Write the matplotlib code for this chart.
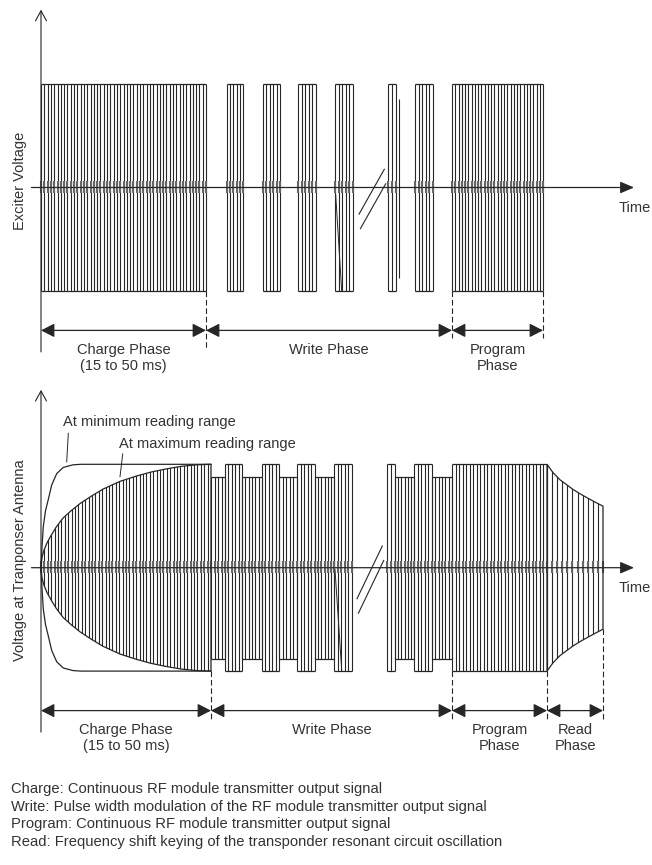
import numpy as np
import matplotlib
matplotlib.use("Agg")
import matplotlib.pyplot as plt
from matplotlib.patches import Polygon, FancyArrowPatch

plt.rcParams['font.family'] = ['Liberation Sans', 'DejaVu Sans']

INK = '#262626'
TEXT = '#333333'
FS = 10.5

# ---------------- Exciter voltage (upper diagram) ----------------
exc_phase_bounds = [0, 165, 411, 502]
exc_phase_labels = ["Charge Phase\n(15 to 50 ms)", "Write Phase", "Program\nPhase"]
exc_burst_start = [0, 186, 222, 257, 294, 347, 374, 411]
exc_burst_end = [165, 202, 239, 275, 312, 355, 392, 502]
exc_amplitude = 1.0

# ---------------- Voltage at transponder antenna (lower diagram) ----------------
ant_phase_bounds = [0, 170, 411, 506, 562]
ant_phase_labels = ["Charge Phase\n(15 to 50 ms)", "Write Phase", "Program\nPhase", "Read\nPhase"]

# charging envelope at maximum reading range
charge_max_t = [0, 1, 3, 6, 10, 15, 22, 30, 39, 50, 62, 79, 95, 110, 125, 140, 155, 170]
charge_max_amp = [0, 0.10, 0.17, 0.24, 0.31, 0.39, 0.48, 0.55, 0.62, 0.69, 0.76,
                  0.835, 0.885, 0.925, 0.955, 0.98, 0.995, 1.0]
# charging envelope at minimum reading range
charge_min_t = [0, 1, 2.3, 4.5, 7.3, 10.7, 15.7, 22.3, 32, 40, 170]
charge_min_amp = [0, 0.2, 0.4, 0.55, 0.66, 0.8, 0.91, 0.97, 0.995, 1.0, 1.0]

# write phase: full-level pulses and reduced-level gaps (PWM)
ant_full_start = [184, 221, 256, 293, 346, 373, 411]
ant_full_end = [201, 238, 274, 311, 354, 391, 506]
ant_reduced_start = [170, 201, 238, 274, 354, 391]
ant_reduced_end = [184, 221, 256, 293, 373, 411]
ant_reduced_amp = 0.88

# read phase: decaying resonant circuit oscillation
read_t = [506, 512, 519, 526, 532, 539, 546, 554, 562]
read_amp = [1.0, 0.92, 0.85, 0.80, 0.757, 0.715, 0.677, 0.635, 0.595]

carrier_period = 3.3   # drawn RF carrier spacing
read_period = 5.0      # lower FSK frequency during read
write_break = 329      # centre of the elided part of the write phase

caption_lines = [
    "Charge: Continuous RF module transmitter output signal",
    "Write: Pulse width modulation of the RF module transmitter output signal",
    "Program: Continuous RF module transmitter output signal",
    "Read: Frequency shift keying of the transponder resonant circuit oscillation",
]

W, H = 652, 865
SCALE = 103.4          # pixels per unit amplitude
X0 = 41                # pixel column of the vertical axis

fig = plt.figure(figsize=(W / 100, H / 100), dpi=100)


def make_panel(top_px, bottom_px, axis_px):
    ax = fig.add_axes([0, 1 - bottom_px / H, 1, (bottom_px - top_px) / H])
    ax.set_xlim(-X0, W - X0)
    ax.set_ylim(-(bottom_px - axis_px) / SCALE, (axis_px - top_px) / SCALE)
    ax.axis('off')
    return ax


def carrier_positions(start, end, period):
    n = max(1, int(round((end - start) / period)))
    return np.linspace(start, end, n + 1)


def draw_fuzz(ax, xs):
    ax.vlines(xs, -0.05, 0.06, color='#666666', lw=1.5, zorder=2)


def draw_burst(ax, start, end, amp, period=carrier_period, edges=True):
    xs = carrier_positions(start, end, period)
    ax.vlines(xs, -amp, amp, color=INK, lw=0.8, zorder=2)
    if edges:
        ax.hlines([amp, -amp], start, end, color=INK, lw=0.9, zorder=2)
    draw_fuzz(ax, xs)


def draw_envelope(ax, t, amp, period):
    t = np.asarray(t, float)
    amp = np.asarray(amp, float)
    xy = np.vstack([np.column_stack([t, amp]), np.column_stack([t[::-1], -amp[::-1]])])
    poly = Polygon(xy, closed=True, facecolor='none', edgecolor=INK, lw=0.9, zorder=3)
    ax.add_patch(poly)
    xs = carrier_positions(t[0], t[-1], period)
    lines = ax.vlines(xs, -amp.max(), amp.max(), color=INK, lw=0.8, zorder=2)
    lines.set_clip_path(poly)
    draw_fuzz(ax, xs)


def draw_axes(ax, ylabel, label_y):
    ax.annotate('', xy=(0, 1.72), xytext=(0, -1.59),
                arrowprops=dict(arrowstyle='->,head_length=0.4,head_width=0.22',
                                mutation_scale=18, lw=0.8, color=INK,
                                shrinkA=0, shrinkB=0), zorder=4)
    ax.annotate('', xy=(593, 0), xytext=(-9.5, 0),
                arrowprops=dict(arrowstyle='-|>,head_length=0.84,head_width=0.36',
                                mutation_scale=10, lw=0.9, color=INK,
                                shrinkA=0, shrinkB=0), zorder=4)
    ax.text(578, -0.2, 'Time', fontsize=FS, color=TEXT, ha='left', va='center')
    ax.text(-21, label_y, ylabel, fontsize=FS, color=TEXT, rotation=90,
            ha='center', va='center')


def draw_break(ax, tc, y_hi, y_lo):
    for dx, dy in [(0.0, 0.0), (1.4, -0.14)]:
        ax.plot([tc + 14.3 + dx, tc - 11 + dx], [y_hi + dy, y_lo + dy],
                color=INK, lw=0.8, zorder=3)


def draw_phases(ax, bounds, labels, end_amps, dash_to):
    y_arrow = -1.382
    for a, b, lab in zip(bounds[:-1], bounds[1:], labels):
        ax.add_patch(FancyArrowPatch((a, y_arrow), (b, y_arrow),
                                     arrowstyle='<|-|>,head_length=0.82,head_width=0.42',
                                     mutation_scale=10, lw=0.9, color=INK,
                                     shrinkA=0, shrinkB=0, zorder=4))
        for i, part in enumerate(lab.split('\n')):
            ax.text((a + b) / 2, -1.57 - 0.157 * i, part, fontsize=FS, color=TEXT,
                    ha='center', va='center')
    for b, amp, lo in zip(bounds[1:], end_amps, dash_to):
        ax.plot([b, b], [-amp, lo], color=INK, lw=0.8, ls=(0, (5, 2.6)), zorder=3)


# ---------------- upper diagram ----------------
ax1 = make_panel(0, 380, 187.5)
for s, e in zip(exc_burst_start, exc_burst_end):
    draw_burst(ax1, s, e, exc_amplitude)
# stray trace in the fourth write pulse and single carrier line after the break
ax1.plot([294.7, 300.7], [-0.07, -1.0], color=INK, lw=0.7, zorder=2)
ax1.vlines(358, -0.88, 0.855, color=INK, lw=0.8)
draw_break(ax1, write_break, 0.176, -0.258)
draw_axes(ax1, 'Exciter Voltage', 0.06)
draw_phases(ax1, exc_phase_bounds, exc_phase_labels,
            [exc_amplitude] * 3, [-1.57, -1.46, -1.46])

# ---------------- lower diagram ----------------
ax2 = make_panel(380, 770, 567.7)
draw_envelope(ax2, charge_max_t, charge_max_amp, 3.4)
ax2.plot(charge_min_t, charge_min_amp, color=INK, lw=0.9, zorder=3)
ax2.plot(charge_min_t, -np.asarray(charge_min_amp), color=INK, lw=0.9, zorder=3)
for s, e in zip(ant_full_start, ant_full_end):
    draw_burst(ax2, s, e, 1.0, carrier_period if e - s < 60 else 3.5)
for s, e in zip(ant_reduced_start, ant_reduced_end):
    draw_burst(ax2, s, e, ant_reduced_amp)
draw_envelope(ax2, read_t, read_amp, read_period)
ax2.plot([294, 300.7], [-0.02, -0.99], color=INK, lw=0.7, zorder=2)
draw_break(ax2, write_break - 2, 0.21, -0.30)
draw_axes(ax2, 'Voltage at Tranponser Antenna', 0.075)
draw_phases(ax2, ant_phase_bounds, ant_phase_labels,
            [1.0, 1.0, 1.0, read_amp[-1]], [-1.475, -1.46, -1.46, -1.46])

# reading range annotations
ax2.text(22, 1.41, 'At minimum reading range', fontsize=FS, color=TEXT, ha='left', va='center')
ax2.plot([27.3, 25.7], [1.30, 1.024], color=INK, lw=0.7)
ax2.text(78, 1.20, 'At maximum reading range', fontsize=FS, color=TEXT, ha='left', va='center')
ax2.plot([81.7, 79.0], [1.10, 0.88], color=INK, lw=0.7)

# ---------------- caption ----------------
for i, line in enumerate(caption_lines):
    fig.text(11 / W, 1 - (793 + 17.6 * i) / H, line, fontsize=10.6, color=TEXT,
             ha='left', va='baseline')

fig.savefig('out.png', dpi=100, facecolor='white')
